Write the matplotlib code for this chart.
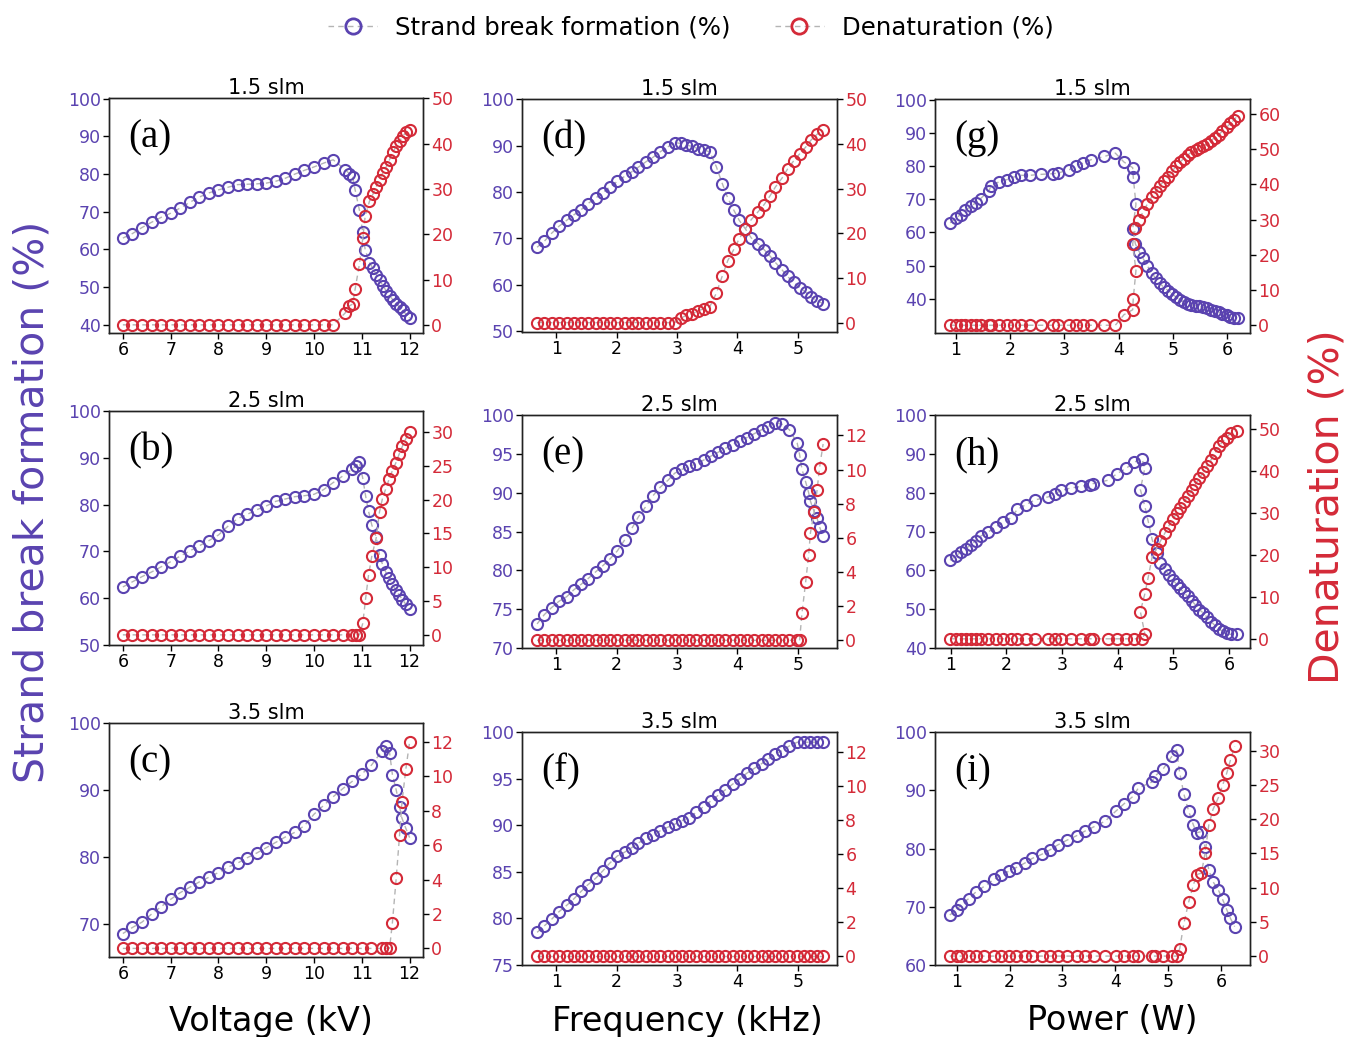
import matplotlib
matplotlib.use('Agg')
import matplotlib.pyplot as plt
from matplotlib.lines import Line2D

PURPLE = '#5a43b0'
RED = '#d42a38'
LINE = '#b4b4b4'

# ── Data ──────────────────────────────────────────────────────────────────────
# (a) 1.5 slm, voltage
A_X = [6.0, 6.2, 6.4, 6.6, 6.8, 7.0, 7.2, 7.4, 7.6, 7.8, 8.0, 8.2, 8.4, 8.6, 8.8,
       9.0, 9.2, 9.4, 9.6, 9.8, 10.0, 10.2, 10.4, 10.65, 10.74, 10.81, 10.86,
       10.95, 11.02, 11.07, 11.16, 11.23, 11.30, 11.37, 11.44, 11.51, 11.58,
       11.65, 11.72, 11.79, 11.86, 11.93, 12.0]
A_SB = [63.0, 64.2, 65.8, 67.2, 68.5, 69.6, 71.0, 72.5, 73.9, 75.0, 75.8, 76.5,
        77.2, 77.3, 77.4, 77.6, 78.1, 78.9, 80.0, 81.0, 81.9, 82.9, 83.8, 81.2,
        80.1, 79.2, 75.8, 70.4, 64.5, 59.9, 56.5, 55.0, 53.3, 51.8, 50.4, 49.0,
        47.7, 46.6, 45.6, 44.6, 43.8, 42.7, 41.8]
A_DN = [0, 0, 0, 0, 0, 0, 0, 0, 0, 0, 0, 0, 0, 0, 0, 0, 0, 0, 0, 0, 0, 0, 0,
        2.6, 4.2, 4.6, 7.9, 13.4, 19.1, 24.0, 27.3, 28.8, 30.5, 32.1, 33.6,
        34.9, 36.5, 38.1, 39.5, 40.6, 41.7, 42.6, 43.1]

# (b) 2.5 slm, voltage
B_X = [6.0, 6.2, 6.4, 6.6, 6.8, 7.0, 7.2, 7.4, 7.6, 7.8, 8.0, 8.2, 8.4, 8.6, 8.8,
       9.0, 9.2, 9.4, 9.6, 9.8, 10.0, 10.2, 10.4, 10.6, 10.8, 10.87, 10.95,
       11.02, 11.08, 11.14, 11.21, 11.30, 11.37, 11.43, 11.50, 11.57, 11.64,
       11.71, 11.78, 11.85, 11.92, 12.0]
B_SB = [62.4, 63.5, 64.6, 65.6, 66.7, 67.8, 69.0, 70.1, 71.2, 72.3, 73.5, 75.4,
        77.0, 77.9, 78.9, 79.7, 80.7, 81.2, 81.7, 81.9, 82.2, 83.2, 84.7, 86.1,
        87.6, 88.2, 89.0, 85.6, 81.8, 78.6, 75.6, 73.1, 69.2, 67.3, 65.6, 64.4,
        63.0, 61.7, 60.7, 59.7, 58.7, 57.6]
B_DN = [0, 0, 0, 0, 0, 0, 0, 0, 0, 0, 0, 0, 0, 0, 0, 0, 0, 0, 0, 0, 0, 0, 0, 0,
        0, 0, 0, 1.7, 5.4, 8.8, 11.7, 14.3, 18.2, 20.1, 21.6, 23.0, 24.3, 25.4,
        26.7, 27.9, 29.0, 30.0]

# (c) 3.5 slm, voltage
C_X = [6.0, 6.2, 6.4, 6.6, 6.8, 7.0, 7.2, 7.4, 7.6, 7.8, 8.0, 8.2, 8.4, 8.6, 8.8,
       9.0, 9.2, 9.4, 9.6, 9.8, 10.0, 10.2, 10.4, 10.6, 10.8, 11.0, 11.2,
       11.42, 11.50, 11.58, 11.64, 11.72, 11.79, 11.84, 11.92, 12.0]
C_SB = [68.6, 69.5, 70.3, 71.5, 72.6, 73.7, 74.7, 75.5, 76.3, 77.0, 77.7, 78.5,
        79.1, 79.9, 80.6, 81.4, 82.2, 83.0, 83.7, 84.7, 86.4, 87.7, 89.0, 90.2,
        91.3, 92.4, 93.7, 95.8, 96.5, 95.6, 92.3, 90.0, 87.5, 85.8, 84.3, 82.9]
C_DN = [0, 0, 0, 0, 0, 0, 0, 0, 0, 0, 0, 0, 0, 0, 0, 0, 0, 0, 0, 0, 0, 0, 0, 0,
        0, 0, 0, 0, 0, 0, 1.5, 4.1, 6.6, 8.5, 10.4, 12.0]

# (d) 1.5 slm, frequency
D_X = [0.68, 0.80, 0.92, 1.04, 1.17, 1.29, 1.41, 1.52, 1.65, 1.77, 1.88, 2.01,
       2.13, 2.25, 2.36, 2.49, 2.60, 2.72, 2.85, 2.96, 3.06, 3.15, 3.25, 3.34,
       3.44, 3.54, 3.65, 3.75, 3.84, 3.94, 4.03, 4.13, 4.23, 4.34, 4.44, 4.54,
       4.63, 4.74, 4.83, 4.93, 5.03, 5.13, 5.22, 5.32, 5.42]
D_SB = [68.1, 69.4, 71.1, 72.6, 73.9, 75.1, 76.2, 77.5, 78.7, 79.9, 81.1, 82.3,
        83.4, 84.4, 85.4, 86.6, 87.5, 88.7, 89.8, 90.7, 90.5, 90.1, 89.9, 89.4,
        89.1, 88.7, 85.5, 81.8, 78.7, 76.1, 73.9, 72.1, 70.1, 68.9, 67.6, 66.2,
        64.8, 63.2, 61.8, 60.5, 59.4, 58.4, 57.3, 56.6, 55.9]
D_DN = [0, 0, 0, 0, 0, 0, 0, 0, 0, 0, 0, 0, 0, 0, 0, 0, 0, 0, 0, 0,
        1.0, 1.6, 2.0, 2.6, 3.1, 3.5, 6.6, 10.5, 13.9, 16.4, 18.8, 21.0, 23.1,
        24.8, 26.4, 28.4, 30.4, 32.4, 34.4, 36.2, 37.8, 39.3, 40.9, 42.2, 43.1]

# (e) 2.5 slm, frequency
E_X = [0.68, 0.80, 0.92, 1.04, 1.17, 1.29, 1.41, 1.52, 1.65, 1.77, 1.88, 2.01,
       2.13, 2.25, 2.36, 2.49, 2.60, 2.72, 2.85, 2.96, 3.08, 3.20, 3.32, 3.44,
       3.56, 3.68, 3.80, 3.92, 4.04, 4.16, 4.28, 4.40, 4.51, 4.62, 4.74, 4.86,
       4.99, 5.03, 5.07, 5.13, 5.18, 5.21, 5.27, 5.32, 5.36, 5.42]
E_SB = [73.1, 74.3, 75.2, 76.0, 76.6, 77.5, 78.2, 78.9, 79.8, 80.6, 81.4, 82.5,
        83.9, 85.4, 86.9, 88.3, 89.6, 90.7, 91.6, 92.5, 93.0, 93.4, 93.7, 94.2,
        94.7, 95.2, 95.7, 96.2, 96.7, 97.1, 97.6, 98.1, 98.5, 99.0, 98.8, 98.1,
        96.4, 94.9, 93.0, 91.4, 90.0, 88.9, 87.6, 86.7, 85.6, 84.4]
E_DN = [0, 0, 0, 0, 0, 0, 0, 0, 0, 0, 0, 0, 0, 0, 0, 0, 0, 0, 0, 0, 0, 0, 0, 0,
        0, 0, 0, 0, 0, 0, 0, 0, 0, 0, 0, 0, 0, 0,
        1.6, 3.4, 5.0, 6.3, 7.5, 8.8, 10.1, 11.5]

# (f) 3.5 slm, frequency
F_X = [0.68, 0.80, 0.92, 1.04, 1.17, 1.29, 1.41, 1.52, 1.65, 1.77, 1.88, 2.01,
       2.13, 2.25, 2.36, 2.49, 2.60, 2.72, 2.85, 2.96, 3.08, 3.20, 3.32, 3.44,
       3.56, 3.68, 3.80, 3.92, 4.04, 4.16, 4.28, 4.40, 4.51, 4.62, 4.74, 4.86,
       4.99, 5.10, 5.21, 5.32, 5.42]
F_SB = [78.5, 79.2, 79.9, 80.7, 81.4, 82.1, 82.9, 83.6, 84.3, 85.1, 85.9, 86.7,
        87.1, 87.6, 88.1, 88.6, 88.9, 89.4, 89.8, 90.1, 90.5, 90.8, 91.4, 92.0,
        92.6, 93.2, 93.8, 94.4, 95.0, 95.6, 96.1, 96.6, 97.1, 97.6, 98.0, 98.5,
        98.9, 98.9, 98.9, 98.9, 98.9]
F_DN = [0, 0, 0, 0, 0, 0, 0, 0, 0, 0, 0, 0, 0, 0, 0, 0, 0, 0, 0, 0, 0, 0, 0, 0,
        0, 0, 0, 0, 0, 0, 0, 0, 0, 0, 0, 0, 0, 0, 0, 0, 0]

# (g) 1.5 slm, power
G_X = [0.90, 1.00, 1.09, 1.18, 1.28, 1.37, 1.46, 1.61, 1.65, 1.79, 1.94, 2.07,
       2.21, 2.36, 2.58, 2.80, 2.89, 3.09, 3.21, 3.35, 3.49, 3.74, 3.94, 4.10,
       4.26, 4.27, 4.32, 4.26, 4.31, 4.38, 4.45, 4.53, 4.61, 4.68, 4.76, 4.83,
       4.91, 4.99, 5.06, 5.13, 5.20, 5.27, 5.34, 5.42, 5.48, 5.56, 5.63, 5.70,
       5.77, 5.85, 5.91, 5.99, 6.06, 6.13, 6.19]
G_SB = [62.9, 64.2, 65.4, 66.7, 67.9, 68.9, 70.2, 72.5, 73.9, 75.2, 75.9, 76.7,
        77.2, 77.2, 77.5, 77.7, 77.9, 78.9, 79.9, 80.9, 81.9, 82.9, 83.9, 81.2,
        79.5, 76.7, 68.5, 61.0, 56.5, 54.2, 52.2, 49.9, 47.9, 46.2, 44.7, 43.5,
        42.5, 41.5, 40.5, 39.7, 39.0, 38.5, 38.2, 37.9, 37.7, 37.4, 37.1, 36.7,
        36.4, 36.0, 35.5, 35.0, 34.5, 34.3, 34.3]
G_DN = [0, 0, 0, 0, 0, 0, 0, 0, 0, 0, 0, 0, 0, 0, 0, 0, 0, 0, 0, 0, 0, 0, 0,
        3.0, 4.4, 7.5, 15.5, 23.1, 27.5, 30.0, 32.2, 34.4, 36.4, 37.9, 39.5,
        40.9, 42.1, 43.8, 45.1, 46.3, 47.3, 48.2, 49.2, 49.6, 50.3, 50.8, 51.5,
        52.4, 53.2, 54.1, 55.1, 56.2, 57.3, 58.3, 59.5]

# (h) 2.5 slm, power
H_X = [0.99, 1.09, 1.18, 1.27, 1.36, 1.45, 1.54, 1.68, 1.81, 1.95, 2.08, 2.20,
       2.35, 2.51, 2.75, 2.87, 2.99, 3.16, 3.34, 3.50, 3.55, 3.83, 3.99, 4.16,
       4.29, 4.44, 4.49, 4.41, 4.49, 4.55, 4.62, 4.70, 4.77, 4.85, 4.92, 4.99,
       5.06, 5.12, 5.19, 5.26, 5.33, 5.40, 5.47, 5.54, 5.61, 5.68, 5.75, 5.82,
       5.89, 5.96, 6.03, 6.14]
H_SB = [62.6, 63.7, 64.6, 65.6, 66.5, 67.6, 68.8, 69.9, 71.2, 72.4, 73.5, 75.7,
        76.9, 78.1, 78.9, 79.7, 80.6, 81.2, 81.6, 82.1, 82.3, 83.2, 84.9, 86.3,
        87.8, 88.7, 86.3, 80.8, 76.5, 72.7, 68.0, 64.4, 62.0, 60.3, 58.8, 57.5,
        56.5, 55.4, 54.3, 53.3, 52.2, 51.1, 49.9, 49.0, 47.9, 46.8, 45.8, 44.9,
        44.3, 43.8, 43.5, 43.5]
H_DN = [0, 0, 0, 0, 0, 0, 0, 0, 0, 0, 0, 0, 0, 0, 0, 0, 0, 0, 0, 0, 0, 0, 0, 0,
        0, 0, 1.2, 6.5, 10.7, 14.6, 19.4, 21.5, 23.3, 25.2, 26.9, 28.5, 29.9,
        31.3, 32.6, 34.0, 35.4, 36.9, 38.4, 39.7, 41.3, 42.7, 44.3, 45.9, 47.1,
        48.0, 49.1, 49.7]

# (i) 3.5 slm, power
I_X = [0.87, 1.00, 1.09, 1.23, 1.36, 1.52, 1.71, 1.84, 1.99, 2.12, 2.29, 2.43,
       2.61, 2.77, 2.91, 3.08, 3.27, 3.43, 3.59, 3.81, 4.01, 4.17, 4.33, 4.44,
       4.69, 4.75, 4.91, 5.07, 5.16, 5.22, 5.30, 5.39, 5.48, 5.54, 5.63, 5.70,
       5.77, 5.85, 5.95, 6.03, 6.11, 6.18, 6.26]
I_SB = [68.6, 69.4, 70.5, 71.4, 72.5, 73.5, 74.7, 75.5, 76.1, 76.7, 77.5, 78.3,
        79.0, 79.8, 80.6, 81.4, 82.2, 83.0, 83.7, 84.7, 86.4, 87.7, 88.9, 90.4,
        91.4, 92.4, 93.7, 95.8, 96.9, 93.0, 89.3, 86.4, 84.0, 82.7, 82.9, 80.2,
        76.3, 74.3, 72.9, 71.3, 69.5, 68.0, 66.6]
I_DN = [0, 0, 0, 0, 0, 0, 0, 0, 0, 0, 0, 0, 0, 0, 0, 0, 0, 0, 0, 0, 0, 0, 0, 0,
        0, 0, 0, 0, 0, 1.1, 4.8, 7.9, 10.4, 11.9, 12.1, 15.0, 19.1, 21.4, 23.1,
        24.9, 26.7, 28.6, 30.6]

TITLES = ['1.5 slm', '2.5 slm', '3.5 slm']
XLABELS = ['Voltage (kV)', 'Frequency (kHz)', 'Power (W)']

V_TICKS = [6, 7, 8, 9, 10, 11, 12]
F_TICKS = [1, 2, 3, 4, 5]
P_TICKS = [1, 2, 3, 4, 5, 6]

# ── Layout helpers ───────────────────────────────────────────────────────────
W, H = 1351, 1037

def px_box(left, top, right, bottom):
    return [left / W, 1 - bottom / H, (right - left) / W, (bottom - top) / H]

# letter, title, x, sb, dn, box(px), xlim, xticks, ylim, yticks, y2lim, y2ticks
PANELS = [
    ('(a)', TITLES[0], A_X, A_SB, A_DN, (109, 98, 423, 333), (5.71, 12.28), V_TICKS,
     (37.8, 100.2), [40, 50, 60, 70, 80, 90, 100], (-1.8, 50.1), [0, 10, 20, 30, 40, 50]),
    ('(b)', TITLES[1], B_X, B_SB, B_DN, (109, 411, 423, 645), (5.71, 12.28), V_TICKS,
     (50, 100), [50, 60, 70, 80, 90, 100], (-1.5, 33.1), [0, 5, 10, 15, 20, 25, 30]),
    ('(c)', TITLES[2], C_X, C_SB, C_DN, (109, 723, 423, 957), (5.71, 12.28), V_TICKS,
     (65.1, 100), [70, 80, 90, 100], (-0.5, 13.1), [0, 2, 4, 6, 8, 10, 12]),
    ('(d)', TITLES[0], D_X, D_SB, D_DN, (522, 99, 837, 332), (0.43, 5.65), F_TICKS,
     (49.8, 100.1), [50, 60, 70, 80, 90, 100], (-2.1, 50.1), [0, 10, 20, 30, 40, 50]),
    ('(e)', TITLES[1], E_X, E_SB, E_DN, (522, 415, 837, 648), (0.43, 5.65), F_TICKS,
     (70, 100), [70, 75, 80, 85, 90, 95, 100], (-0.45, 13.2), [0, 2, 4, 6, 8, 10, 12]),
    ('(f)', TITLES[2], F_X, F_SB, F_DN, (522, 732, 837, 965), (0.43, 5.65), F_TICKS,
     (75, 100), [75, 80, 85, 90, 95, 100], (-0.5, 13.2), [0, 2, 4, 6, 8, 10, 12]),
    ('(g)', TITLES[0], G_X, G_SB, G_DN, (935, 99, 1250, 333), (0.62, 6.42), P_TICKS,
     (29.7, 100.2), [40, 50, 60, 70, 80, 90, 100], (-2.2, 64.2), [0, 10, 20, 30, 40, 50, 60]),
    ('(h)', TITLES[1], H_X, H_SB, H_DN, (935, 415, 1250, 648), (0.72, 6.38), P_TICKS,
     (40, 100), [40, 50, 60, 70, 80, 90, 100], (-2.2, 53.4), [0, 10, 20, 30, 40, 50]),
    ('(i)', TITLES[2], I_X, I_SB, I_DN, (935, 732, 1250, 965), (0.59, 6.55), P_TICKS,
     (60, 100), [60, 70, 80, 90, 100], (-1.3, 32.7), [0, 5, 10, 15, 20, 25, 30]),
]

plt.rcParams['font.family'] = ['DejaVu Sans']
fig = plt.figure(figsize=(W / 100, H / 100), dpi=100)
fig.patch.set_facecolor('white')

marker_kw = dict(marker='o', ms=8, mfc='none', mew=1.5, ls=(0, (4, 3)),
                 color=LINE, lw=1.0)

for (letter, title, xs, sb, dn, box, xlim, xt, ylim, yt, y2lim, y2t) in PANELS:
    ax = fig.add_axes(px_box(*box))
    ax2 = ax.twinx()

    ax.plot(xs, sb, mec=PURPLE, **marker_kw)
    ax2.plot(xs, dn, mec=RED, **marker_kw)

    ax.set_xlim(*xlim)
    ax.set_xticks(xt)
    ax.set_ylim(*ylim)
    ax.set_yticks(yt)
    ax2.set_ylim(*y2lim)
    ax2.set_yticks(y2t)

    ax.tick_params(axis='x', labelsize=12.5, colors='black', length=4, width=1, pad=2)
    ax.tick_params(axis='y', labelsize=12.5, labelcolor=PURPLE, length=4, width=1, pad=2)
    ax2.tick_params(axis='y', labelsize=12.5, labelcolor=RED, length=4, width=1, pad=2)
    for a in (ax, ax2):
        for sp in a.spines.values():
            sp.set_color('#222222'); sp.set_linewidth(1.0)

    ax.set_title(title, fontsize=15, pad=2)
    ax.text(0.06, 0.83, letter, transform=ax.transAxes, fontsize=28,
            family='Liberation Serif', ha='left', va='center')

# big axis labels
fig.text(33 / W, 1 - 502 / H, 'Strand break formation (%)', rotation=90,
         ha='center', va='center', fontsize=29.5, color=PURPLE)
fig.text(1328 / W, 1 - 507 / H, 'Denaturation (%)', rotation=90,
         ha='center', va='center', fontsize=29.5, color=RED)
for cx, lab in zip([271, 687, 1112], XLABELS):
    fig.text(cx / W, 1 - 1021 / H, lab, ha='center', va='center', fontsize=24)

# legend
handles = [
    Line2D([], [], mec=PURPLE, **marker_kw),
    Line2D([], [], mec=RED, **marker_kw),
]
for h in handles:
    h.set_markersize(11); h.set_markeredgewidth(2)
fig.legend(handles, ['Strand break formation (%)', 'Denaturation (%)'],
           loc='center', bbox_to_anchor=(691 / W, 1 - 28 / H), ncol=2,
           frameon=False, fontsize=17.6, handlelength=2.0, columnspacing=1.8,
           handletextpad=0.75)

fig.savefig('out.png', dpi=100)
